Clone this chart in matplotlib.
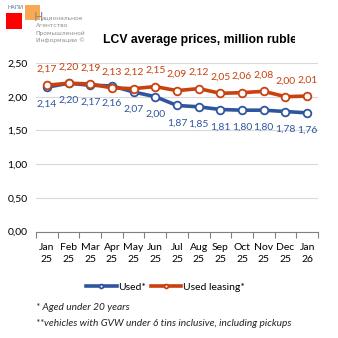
import matplotlib
matplotlib.use("Agg")
import matplotlib.pyplot as plt
from matplotlib.patches import Rectangle

months = ["Jan\n25", "Feb\n25", "Mar\n25", "Apr\n25", "May\n25", "Jun\n25", "Jul\n25",
          "Aug\n25", "Sep\n25", "Oct\n25", "Nov\n25", "Dec\n25", "Jan\n26"]
used = [2.14, 2.20, 2.17, 2.16, 2.07, 2.00, 1.87, 1.85, 1.81, 1.80, 1.80, 1.78, 1.76]
leasing = [2.17, 2.20, 2.19, 2.13, 2.12, 2.15, 2.09, 2.12, 2.05, 2.06, 2.08, 2.00, 2.01]
yticks = [0.0, 0.5, 1.0, 1.5, 2.0, 2.5]

BLUE = "#2F559F"
ORANGE = "#C9410F"
W = H = 338

plt.rcParams["font.family"] = ["Lato", "DejaVu Sans"]

fig = plt.figure(figsize=(3.38, 3.38), dpi=100)
ax = fig.add_axes([36 / W, 1 - 231.5 / H, 282 / W, 168.5 / H])

x = list(range(len(months)))
ax.plot(x, used, color=BLUE, lw=2.6, marker="o", ms=5.5, mfc="white", mec=BLUE, mew=1.3,
        label="Used*", zorder=3)
ax.plot(x, leasing, color=ORANGE, lw=2.6, marker="o", ms=5.5, mfc="white", mec=ORANGE, mew=1.3,
        label="Used leasing*", zorder=3)

for i, v in enumerate(used):
    ax.annotate(f"{v:.2f}".replace(".", ","), (i, v), xytext=(0, -12.5), textcoords="offset points",
                ha="center", va="center", color=BLUE, fontsize=7.5)
for i, v in enumerate(leasing):
    ax.annotate(f"{v:.2f}".replace(".", ","), (i, v), xytext=(0, 11.5), textcoords="offset points",
                ha="center", va="center", color=ORANGE, fontsize=7.5)

ax.set_xlim(-0.5, len(months) - 0.5)
ax.set_ylim(0, 2.5)
ax.set_yticks(yticks)
ax.set_yticklabels([f"{t:.2f}".replace(".", ",") for t in yticks], fontsize=7.5)
ax.yaxis.grid(True, color="#D9D9D9", lw=0.8)
ax.set_axisbelow(True)
ax.tick_params(axis="y", length=0, pad=6)

ax.set_xticks([i - 0.5 for i in range(len(months) + 1)])
ax.set_xticklabels([])
ax.set_xticks(x, minor=True)
ax.set_xticklabels(months, minor=True, fontsize=7.5, linespacing=1.45)
ax.tick_params(axis="x", which="major", length=4, color="#808080", direction="out")
ax.tick_params(axis="x", which="minor", length=0, pad=8.5)

for s in ["left", "right", "top"]:
    ax.spines[s].set_visible(False)
ax.spines["bottom"].set_color("#808080")

fig.legend(loc="center", bbox_to_anchor=(0.49, 1 - 287 / H), ncol=2, frameon=False,
           fontsize=7.5, handlelength=2.9, handletextpad=0.15, columnspacing=0.5,
           markerscale=0.5)

fig.text(36 / W, 1 - 308 / H, "* Aged under 20 years", fontsize=7.3, style="italic",
         va="center", color="#222222")
fig.text(36 / W, 1 - 323 / H, "**vehicles with GVW under 6 tins inclusive, including pickups",
         fontsize=7.3, style="italic", va="center", color="#222222")

# title, cut off at the right like in the source
title = fig.text(103 / W, 1 - 40 / H, "LCV average prices, million rubles", fontsize=8.8,
                 fontweight="bold", family="Liberation Sans", va="center")
clip = Rectangle((0, 0), 295 / W, 1, transform=fig.transFigure, visible=False)
fig.add_artist(clip)
title.set_clip_path(clip)

# logo
fig.add_artist(Rectangle((6 / W, 1 - 29 / H), 16 / W, 16 / H, transform=fig.transFigure,
                         color="#FF0000", lw=0))
fig.add_artist(Rectangle((25 / W, 1 - 20 / H), 15 / W, 15 / H, transform=fig.transFigure,
                         color="#F7A040", lw=0, alpha=0.9))
fig.text(7 / W, 1 - 7.5 / H, "НАПИ", fontsize=4, color="#5A6E8C", va="center",
         family="DejaVu Sans")
fig.text(34 / W, 1 - 17.5 / H, "Н", fontsize=9, color="#8C8C8C", va="center",
         family="DejaVu Sans")
fig.text(42 / W, 1 - 18 / H, "ациональное", fontsize=4.3, color="#8C8C8C", va="center",
         family="DejaVu Sans")
for k, line in enumerate(["Агентство", "Промышленной", "Информации ©"]):
    fig.text(35.5 / W, 1 - (25.5 + 7.5 * k) / H, line, fontsize=4.3, color="#8C8C8C",
             va="center", family="DejaVu Sans")

fig.savefig("out.png", dpi=100)
